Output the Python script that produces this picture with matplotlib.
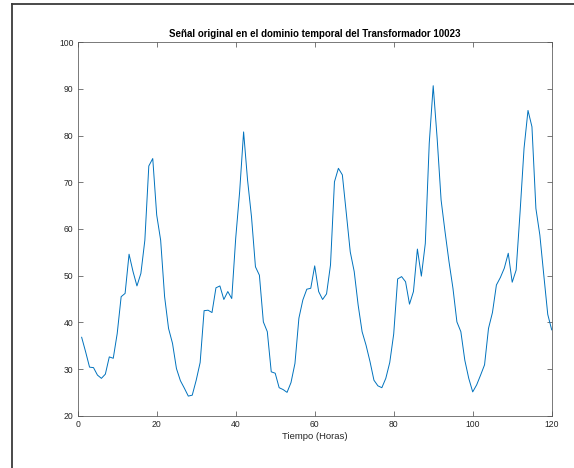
import matplotlib
matplotlib.use("Agg")
import matplotlib.pyplot as plt
from matplotlib.lines import Line2D
import numpy as np

# Hourly load signal of transformer 10023
hours = list(range(1, 121))
load = [
    36.8, 33.7, 30.4, 30.3, 28.7, 28.0, 28.9, 32.6, 32.3, 37.6,
    45.5, 46.2, 54.6, 50.9, 47.8, 50.5, 57.6, 73.5, 75.1, 63.0,
    57.6, 45.5, 38.7, 35.5, 30.1, 27.5, 25.9, 24.2, 24.4, 27.6,
    31.4, 42.5, 42.6, 42.1, 47.4, 47.8, 44.9, 46.6, 45.1, 58.0,
    68.0, 80.8, 70.5, 62.6, 51.9, 50.1, 40.1, 38.0, 29.4, 29.1,
    26.0, 25.6, 25.0, 27.1, 31.2, 40.9, 44.8, 47.1, 47.3, 52.1,
    46.6, 44.9, 46.1, 52.3, 70.1, 73.0, 71.6, 63.4, 55.1, 50.9,
    43.7, 38.0, 35.1, 31.6, 27.6, 26.4, 26.0, 28.0, 31.4, 37.5,
    49.3, 49.8, 48.7, 43.9, 46.6, 55.7, 49.9, 56.9, 78.4, 90.7,
    79.4, 66.2, 59.4, 53.0, 47.3, 40.1, 38.0, 31.9, 28.0, 25.1,
    26.6, 28.7, 30.9, 38.7, 42.1, 48.0, 49.6, 51.6, 54.8, 48.6,
    51.2, 63.7, 77.3, 85.4, 81.9, 64.4, 58.7, 50.1, 41.7, 38.4,
]

x_ticks = [0, 20, 40, 60, 80, 100, 120]
y_ticks = [20, 30, 40, 50, 60, 70, 80, 90, 100]

title_text = "Señal original en el dominio temporal del Transformador 10023"
xlabel_text = "Tiempo (Horas)"

plt.rcParams["font.family"] = ["Liberation Sans", "DejaVu Sans"]

W, H = 574, 468
fig = plt.figure(figsize=(W / 100, H / 100), dpi=100)
fig.patch.set_facecolor("white")

left, right, top, bottom = 77.7, 551.7, 42.3, 415.7
ax = fig.add_axes([left / W, 1 - bottom / H, (right - left) / W, (bottom - top) / H])

ax.plot(hours, load, color="#0072BD", linewidth=0.7)

ax.set_xlim(0, 120)
ax.set_ylim(20, 100)
ax.set_xticks(x_ticks)
ax.set_yticks(y_ticks)

axis_color = "#262626"
for s in ax.spines.values():
    s.set_color("#555555")
    s.set_linewidth(0.55)
ax.tick_params(direction="in", length=3.4, width=0.55, colors="#555555",
               labelsize=6.2, labelcolor=axis_color, top=True, right=True, pad=3)

ax.set_title(title_text, fontsize=7.0, fontweight="bold", color="black", pad=3.5)
ax.set_xlabel(xlabel_text, fontsize=6.8, color=axis_color, labelpad=2)

# outer frame of the window panel
frame_color = "#3a3a3a"
fig.add_artist(Line2D([11.7 / W, 11.7 / W], [0, 1 - 4 / H], transform=fig.transFigure,
                      color=frame_color, linewidth=1.3))
fig.add_artist(Line2D([11.7 / W, 1], [1 - 4 / H, 1 - 4 / H], transform=fig.transFigure,
                      color=frame_color, linewidth=1.3))

fig.savefig("out.png", dpi=100, facecolor="white")
